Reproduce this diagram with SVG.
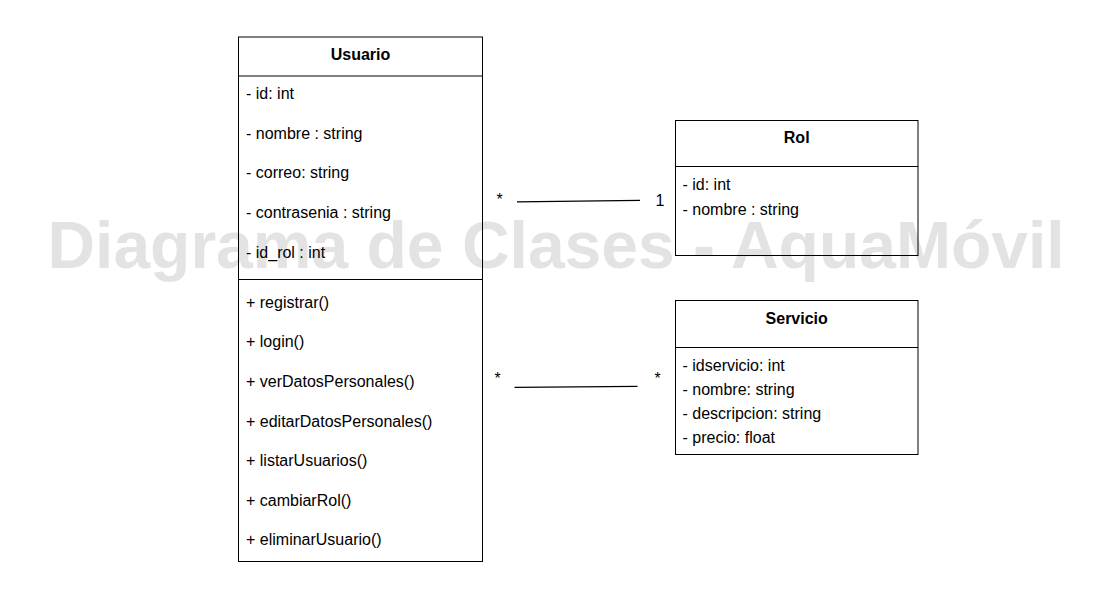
<svg xmlns="http://www.w3.org/2000/svg" width="1117" height="611" viewBox="0 0 1117 611">
<style>
.box{fill:none;stroke:#000;stroke-width:1}
.t{font-family:"Liberation Sans",Arial,sans-serif;font-size:16px;fill:#000}
.h{font-family:"Liberation Sans",Arial,sans-serif;font-size:16px;font-weight:bold;fill:#000;text-anchor:middle}
.wm{font-family:"Liberation Sans",Arial,sans-serif;font-size:66px;font-weight:bold;fill:#e3e3e3;text-anchor:middle}
.edge{stroke:#000;stroke-width:1.3;fill:none}
</style>
<rect width="1117" height="611" fill="#fff"/>
<text class="wm" x="556" y="267.5">Diagrama de Clases - AquaMóvil</text>
<g id="usuario">
<rect class="box" x="238.5" y="37" width="244" height="524.5"/>
<line class="box" x1="238.5" y1="76" x2="482.5" y2="76"/>
<line class="box" x1="238.5" y1="279.5" x2="482.5" y2="279.5"/>
<text class="h" x="360.5" y="60">Usuario</text>
<text class="t" x="246" y="98.5">- id: int</text>
<text class="t" x="246" y="138.5">- nombre : string</text>
<text class="t" x="246" y="178">- correo: string</text>
<text class="t" x="246" y="218">- contrasenia : string</text>
<text class="t" x="246" y="257.5">- id_rol : int</text>
<text class="t" x="246" y="307.5">+ registrar()</text>
<text class="t" x="246" y="347">+ login()</text>
<text class="t" x="246" y="386.5">+ verDatosPersonales()</text>
<text class="t" x="246" y="426.5">+ editarDatosPersonales()</text>
<text class="t" x="246" y="466">+ listarUsuarios()</text>
<text class="t" x="246" y="505.5">+ cambiarRol()</text>
<text class="t" x="246" y="545">+ eliminarUsuario()</text>
</g>
<g id="rol">
<rect class="box" x="675.5" y="120.5" width="242.5" height="135"/>
<line class="box" x1="675.5" y1="166.5" x2="918" y2="166.5"/>
<text class="h" x="796.7" y="143">Rol</text>
<text class="t" x="682.5" y="190">- id: int</text>
<text class="t" x="682.5" y="215">- nombre : string</text>
</g>
<g id="servicio">
<rect class="box" x="675.5" y="300.5" width="242.5" height="154"/>
<line class="box" x1="675.5" y1="347.5" x2="918" y2="347.5"/>
<text class="h" x="796.7" y="323.5">Servicio</text>
<text class="t" x="682.5" y="371">- idservicio: int</text>
<text class="t" x="682.5" y="395">- nombre: string</text>
<text class="t" x="682.5" y="419">- descripcion: string</text>
<text class="t" x="682.5" y="443">- precio: float</text>
</g>
<g id="connectors">
<line class="edge" x1="517" y1="201.8" x2="640" y2="200.3"/>
<text class="t" x="496.5" y="205">*</text>
<text class="t" x="655.5" y="206">1</text>
<line class="edge" x1="514.5" y1="387.3" x2="637.5" y2="386.3"/>
<text class="t" x="494.5" y="384">*</text>
<text class="t" x="654.5" y="384">*</text>
</g>
</svg>
